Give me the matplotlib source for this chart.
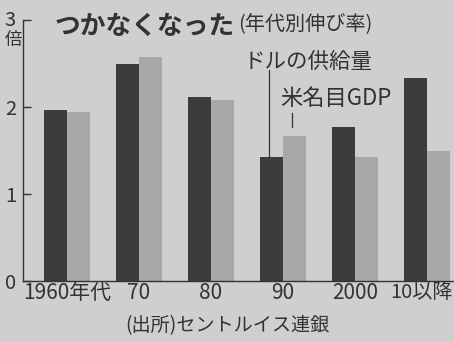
import matplotlib
matplotlib.use("Agg")
import matplotlib.pyplot as plt
import matplotlib.transforms as mtransforms
import numpy as np

plt.rcParams['font.family'] = ['Noto Sans CJK JP', 'DejaVu Sans']

categories = ["1960年代", "70", "80", "90", "2000", "10以降"]
dollar_supply = [1.96, 2.49, 2.11, 1.43, 1.77, 2.33]
nominal_gdp = [1.94, 2.58, 2.08, 1.67, 1.43, 1.49]
yticks = [0, 1, 2, 3]
ytick_labels = ["0", "1", "2", "3"]

bg = "#cfcfcf"
dark = "#3c3c3c"
light = "#a8a8a8"
txt = "#333333"

fig = plt.figure(figsize=(4.54, 3.42), dpi=100, facecolor=bg)
ax = fig.add_axes([23/454, 1-281/342, (454-23)/454, (281-20)/342])
ax.set_facecolor(bg)

x = np.arange(len(categories))
w = 0.32
ax.bar(x - w/2, dollar_supply, w, color=dark, zorder=2)
ax.bar(x + w/2, nominal_gdp, w, color=light, zorder=2)

ax.set_xlim(-0.61, 5.375)
ax.set_ylim(0, 3)
for s in ["top", "right"]:
    ax.spines[s].set_visible(False)
for s in ["left", "bottom"]:
    ax.spines[s].set_color(txt)
    ax.spines[s].set_linewidth(1.0)
ax.set_yticks(yticks)
ax.set_yticklabels(ytick_labels)
ax.tick_params(axis="y", direction="in", length=6, width=1.0, color=txt,
               labelsize=14.5, labelcolor=txt, pad=5)
ax.set_xticks(x)
ax.set_xticklabels(categories)
ax.tick_params(axis="x", length=0, labelsize=15, labelcolor=txt, pad=1)

# nudge the top y label up slightly and the last x label left slightly
for lbl in ax.get_yticklabels():
    if lbl.get_text() == "3":
        lbl.set_transform(lbl.get_transform() +
                          mtransforms.ScaledTranslation(0, 2/100, fig.dpi_scale_trans))
for lbl in ax.get_xticklabels():
    if lbl.get_text() == "10以降":
        lbl.set_fontsize(14.5)
        lbl.set_transform(lbl.get_transform() +
                          mtransforms.ScaledTranslation(-5/100, 0, fig.dpi_scale_trans))

# unit
fig.text(13/454, 1-40/342, "倍", fontsize=12.5, color=txt, ha="center", va="center")

# title
fig.text(55/454, 1-26/342, "つかなくなった", fontsize=18.5, fontweight="bold",
         color=txt, ha="left", va="center")
fig.text(238/454, 1-24/342, "(年代別伸び率)", fontsize=14.5, color=txt,
         ha="left", va="center")

# annotations
ax.text(3 - w/2 - 0.38, 2.52, "ドルの供給量", fontsize=15.5, color=txt,
        ha="left", va="center")
ax.plot([3 - w/2 - 0.03, 3 - w/2 - 0.03], [dollar_supply[3], 2.42], color=txt, lw=0.9, zorder=3)
ax.text(3 + w/2 - 0.2, 2.1, "米名目GDP", fontsize=16, color=txt,
        ha="left", va="center")
ax.plot([3 + w/2 - 0.03, 3 + w/2 - 0.03], [nominal_gdp[3] + 0.1, 1.93], color=txt, lw=0.9, zorder=3)

# source
fig.text(227/454, 1-326/342, "(出所)セントルイス連銀", fontsize=13.8, color=txt,
         ha="center", va="center")

fig.savefig("out.png", dpi=100, facecolor=bg)
